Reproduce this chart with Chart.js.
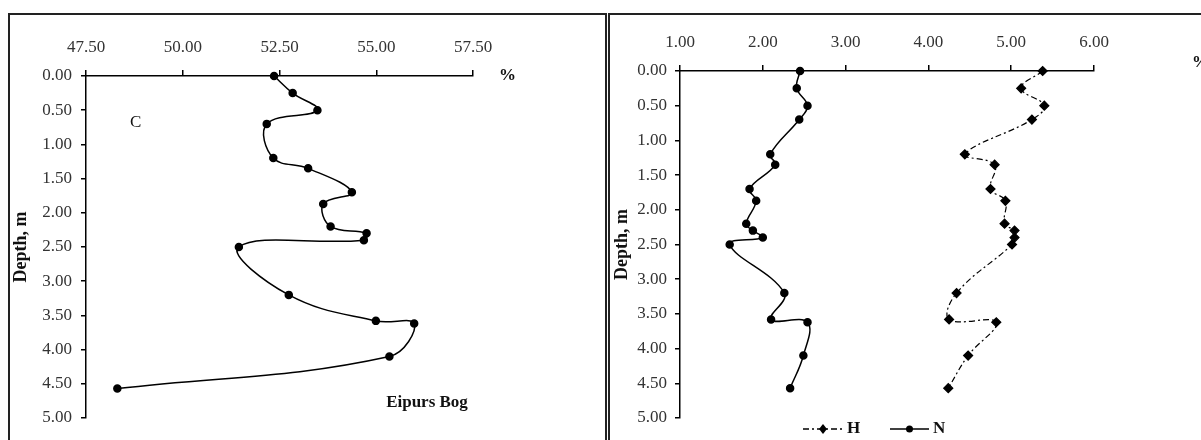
<!DOCTYPE html>
<html>
    <head>
        <title> Eipurs Bog </title>
        <script src = "https://cdn.jsdelivr.net/npm/chart.js"> </script>
        <style>
            body { margin: 0; background: #fff; width: 1201px; height: 440px; overflow: hidden; position: relative; }
            .frame { position: absolute; border: 2px solid #222; box-sizing: border-box; }
            canvas { position: absolute; top: 0; }
        </style>
    </head>

    <body onload = "createCharts()">

            <div class="frame" style="left:8px; top:13px; width:599px; height:450px;"></div>
            <div class="frame" style="left:608px; top:13px; width:620px; height:450px;"></div>
            <canvas id="chartC" width="603" height="440" style="left:0px;"></canvas>
            <canvas id="chartHN" width="598" height="440" style="left:603px;"></canvas>

            <script>
                // depth of samples, m (shared by both panels)
                const depth = [0, 0.25, 0.5, 0.7, 1.2, 1.35, 1.7, 1.87, 2.2, 2.3, 2.4, 2.5, 3.2, 3.58, 3.62, 4.1, 4.57];
                // C, %
                const carbon = [52.36, 52.84, 53.48, 52.17, 52.34, 53.24, 54.37, 53.63, 53.82, 54.75, 54.68, 51.45, 52.74, 54.99, 55.98, 55.34, 48.31];
                // H, %
                const hydrogen = [5.38, 5.12, 5.40, 5.25, 4.44, 4.80, 4.75, 4.93, 4.92, 5.04, 5.04, 5.01, 4.34, 4.25, 4.82, 4.48, 4.24];
                // N, %
                const nitrogen = [2.45, 2.41, 2.54, 2.44, 2.09, 2.15, 1.84, 1.92, 1.80, 1.88, 2.00, 1.60, 2.26, 2.10, 2.54, 2.49, 2.33];

                const serif = "'Liberation Serif', 'Times New Roman', serif";

                function pts(vals) {
                    return vals.map((v, i) => ({x: v, y: depth[i]}));
                }

                // extra text drawn on the canvas: labels, % sign, legend
                const notes = {
                    id: 'notes',
                    afterDraw(chart, args, opts) {
                        const ctx = chart.ctx;
                        ctx.save();
                        ctx.fillStyle = '#111';
                        ctx.textBaseline = 'middle';
                        (opts.texts || []).forEach(t => {
                            ctx.font = (t.bold ? 'bold ' : '') + t.size + 'px ' + serif;
                            ctx.textAlign = t.align || 'left';
                            ctx.fillText(t.text, t.x, t.y);
                        });
                        (opts.legend || []).forEach(l => {
                            ctx.strokeStyle = '#000';
                            ctx.lineWidth = 1.5;
                            ctx.setLineDash(l.dash);
                            ctx.beginPath();
                            ctx.moveTo(l.x1, l.y);
                            ctx.lineTo(l.x2, l.y);
                            ctx.stroke();
                            ctx.setLineDash([]);
                            ctx.fillStyle = '#000';
                            ctx.beginPath();
                            const mx = (l.x1 + l.x2) / 2;
                            if (l.marker === 'diamond') {
                                ctx.moveTo(mx, l.y - 5); ctx.lineTo(mx + 4, l.y);
                                ctx.lineTo(mx, l.y + 5); ctx.lineTo(mx - 4, l.y);
                                ctx.closePath();
                            } else {
                                ctx.arc(mx, l.y, 3.5, 0, Math.PI * 2);
                            }
                            ctx.fill();
                            ctx.fillStyle = '#111';
                            ctx.font = 'bold 17px ' + serif;
                            ctx.textAlign = 'left';
                            ctx.fillText(l.label, l.tx, l.y);
                        });
                        ctx.restore();
                    }
                };

                function makeOptions(xmin, xmax, xstep, axisLeft, axisTop, padRight, titlePad, yPad, texts, legend) {
                    return {
                        responsive: false,
                        animation: false,
                        layout: { padding: { left: 0, top: 0, right: padRight, bottom: 440 - 418 } },
                        plugins: {
                            legend: { display: false },
                            tooltip: { enabled: false },
                            notes: { texts: texts, legend: legend }
                        },
                        scales: {
                            x: {
                                type: 'linear',
                                position: 'top',
                                min: xmin, max: xmax,
                                afterFit: s => { s.height = axisTop; },
                                grid: { drawOnChartArea: false, tickLength: 6, tickColor: '#000', lineWidth: 1.5 },
                                border: { color: '#000', width: 1.5 },
                                ticks: {
                                    stepSize: xstep, padding: 12, color: '#333',
                                    font: { family: serif, size: 17 },
                                    callback: v => v.toFixed(2)
                                }
                            },
                            y: {
                                type: 'linear',
                                reverse: true,
                                min: 0, max: 5,
                                afterFit: s => { s.width = axisLeft; },
                                grid: { drawOnChartArea: false, tickLength: 5, tickColor: '#000', lineWidth: 1.5 },
                                border: { color: '#000', width: 1.5 },
                                title: {
                                    display: true, text: 'Depth, m', color: '#111',
                                    font: { family: serif, size: 18, weight: 'bold' },
                                    padding: { top: titlePad, bottom: 0 }
                                },
                                ticks: {
                                    stepSize: 0.5, padding: yPad, color: '#333',
                                    font: { family: serif, size: 17 },
                                    callback: v => v.toFixed(2)
                                }
                            }
                        }
                    };
                }

                function createCharts() {
                    new Chart(document.getElementById('chartC'), {
                        type: 'scatter',
                        data: {
                            datasets: [{
                                label: 'C',
                                data: pts(carbon),
                                showLine: true,
                                tension: 0.4,
                                borderColor: '#000',
                                borderWidth: 1.5,
                                backgroundColor: '#000',
                                pointRadius: 3.5,
                                pointStyle: 'circle',
                                clip: false
                            }]
                        },
                        options: makeOptions(47.5, 57.5, 2.5, 86, 76, 603 - 473, 11, 9,
                            [
                                {text: '%', x: 499, y: 76, size: 17, bold: true},
                                {text: 'C', x: 130, y: 123, size: 17},
                                {text: 'Eipurs Bog', x: 427, y: 403, size: 17, bold: true, align: 'center'}
                            ], []),
                        plugins: [notes]
                    });

                    new Chart(document.getElementById('chartHN'), {
                        type: 'scatter',
                        data: {
                            datasets: [{
                                label: 'H',
                                data: pts(hydrogen),
                                showLine: true,
                                tension: 0.4,
                                borderColor: '#000',
                                borderWidth: 1.2,
                                borderDash: [6, 3, 2, 3],
                                backgroundColor: '#000',
                                pointRadius: 4.5,
                                pointStyle: 'rectRot',
                                clip: false
                            }, {
                                label: 'N',
                                data: pts(nitrogen),
                                showLine: true,
                                tension: 0.4,
                                borderColor: '#000',
                                borderWidth: 1.5,
                                backgroundColor: '#000',
                                pointRadius: 3.5,
                                pointStyle: 'circle',
                                clip: false
                            }]
                        },
                        options: makeOptions(1, 6, 1, 77, 71, 598 - 491, 9, 8,
                            [
                                {text: '%', x: 589, y: 63, size: 17, bold: true}
                            ],
                            [
                                {label: 'H', x1: 200, x2: 240, y: 429, tx: 244, dash: [6, 3, 2, 3], marker: 'diamond'},
                                {label: 'N', x1: 287, x2: 326, y: 429, tx: 330, dash: [], marker: 'circle'}
                            ]),
                        plugins: [notes]
                    });
                }
            </script>

    </body>
</html>
